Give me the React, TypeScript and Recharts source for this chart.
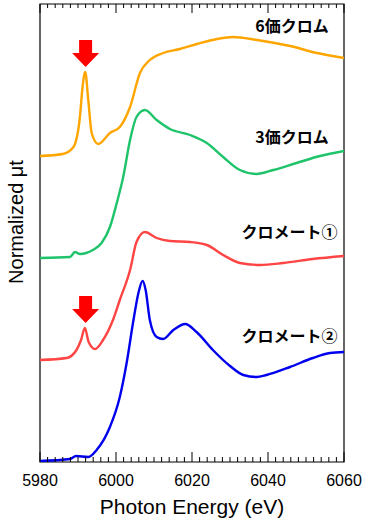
import { LineChart, Line, XAxis, YAxis, ReferenceArea, ReferenceDot } from 'recharts';

// energy (eV), normalized μt with per-spectrum vertical offset
const cr6 = [
  { e: 5980, v: 3.06 }, { e: 5986, v: 3.08 }, { e: 5988.8, v: 3.15 }, { e: 5990.5, v: 3.45 },
  { e: 5991.2, v: 3.75 }, { e: 5991.9, v: 3.9 }, { e: 5992.7, v: 3.62 }, { e: 5993.6, v: 3.29 },
  { e: 5995.3, v: 3.18 }, { e: 5998.4, v: 3.29 }, { e: 6001, v: 3.35 }, { e: 6003.7, v: 3.55 },
  { e: 6006.3, v: 3.89 }, { e: 6008.9, v: 4.02 }, { e: 6012.4, v: 4.09 }, { e: 6016.8, v: 4.13 },
  { e: 6021.3, v: 4.18 }, { e: 6026.6, v: 4.23 }, { e: 6030.8, v: 4.25 }, { e: 6037.1, v: 4.22 },
  { e: 6045.8, v: 4.16 }, { e: 6052.9, v: 4.09 }, { e: 6060, v: 4.04 },
];

const cr3 = [
  { e: 5980, v: 2.04 }, { e: 5987.9, v: 2.05 }, { e: 5989.2, v: 2.1 }, { e: 5990.5, v: 2.08 },
  { e: 5993.9, v: 2.12 }, { e: 5996.2, v: 2.19 }, { e: 5998.4, v: 2.35 }, { e: 6000.2, v: 2.59 },
  { e: 6001.9, v: 2.85 }, { e: 6003.7, v: 3.22 }, { e: 6005.4, v: 3.45 }, { e: 6007.6, v: 3.52 },
  { e: 6010.7, v: 3.42 }, { e: 6014.2, v: 3.33 }, { e: 6019.5, v: 3.27 }, { e: 6023.9, v: 3.19 },
  { e: 6028.2, v: 3.05 }, { e: 6032.6, v: 2.92 }, { e: 6037, v: 2.88 }, { e: 6041.4, v: 2.92 },
  { e: 6047.5, v: 2.99 }, { e: 6053.7, v: 3.06 }, { e: 6060, v: 3.11 },
];

const chromate1 = [
  { e: 5980, v: 1.02 }, { e: 5987, v: 1.04 }, { e: 5989.6, v: 1.12 }, { e: 5990.8, v: 1.22 },
  { e: 5991.8, v: 1.34 }, { e: 5992.8, v: 1.2 }, { e: 5994.5, v: 1.13 }, { e: 5996.6, v: 1.22 },
  { e: 5999.2, v: 1.42 }, { e: 6001, v: 1.62 }, { e: 6003.7, v: 1.92 }, { e: 6005.4, v: 2.2 },
  { e: 6007.6, v: 2.3 }, { e: 6010.7, v: 2.24 }, { e: 6014.2, v: 2.21 }, { e: 6019.5, v: 2.2 },
  { e: 6023.9, v: 2.17 }, { e: 6028.2, v: 2.07 }, { e: 6032.6, v: 1.99 }, { e: 6037.9, v: 1.97 },
  { e: 6044, v: 1.99 }, { e: 6051.8, v: 2.03 }, { e: 6060, v: 2.06 },
];

const chromate2 = [
  { e: 5980, v: 0.01 }, { e: 5987.9, v: 0.03 }, { e: 5989.5, v: 0.06 }, { e: 5992.7, v: 0.05 },
  { e: 5994.9, v: 0.12 }, { e: 5998.4, v: 0.35 }, { e: 6001, v: 0.65 }, { e: 6002.8, v: 0.99 },
  { e: 6004.6, v: 1.42 }, { e: 6005.9, v: 1.69 }, { e: 6007, v: 1.81 }, { e: 6007.8, v: 1.72 },
  { e: 6008.9, v: 1.42 }, { e: 6010.7, v: 1.25 }, { e: 6012.4, v: 1.23 }, { e: 6015.1, v: 1.32 },
  { e: 6018.2, v: 1.38 }, { e: 6021.2, v: 1.3 }, { e: 6025.5, v: 1.12 }, { e: 6030, v: 0.96 },
  { e: 6033.5, v: 0.87 }, { e: 6037, v: 0.85 }, { e: 6039.6, v: 0.87 }, { e: 6045.8, v: 0.95 },
  { e: 6051.8, v: 1.04 }, { e: 6056.3, v: 1.09 }, { e: 6060, v: 1.1 },
];

const majorTicks = [5980, 6000, 6020, 6040, 6060];
const allTicks = [
  5980, 5982, 5984, 5986, 5988, 5990, 5992, 5994, 5996, 5998,
  6000, 6002, 6004, 6006, 6008, 6010, 6012, 6014, 6016, 6018,
  6020, 6022, 6024, 6026, 6028, 6030, 6032, 6034, 6036, 6038,
  6040, 6042, 6044, 6046, 6048, 6050, 6052, 6054, 6056, 6058, 6060,
];

// label positions (energy, value) and texts
const labels = [
  { e: 6056, v: 4.37, text: '6価クロム' },
  { e: 6056, v: 3.26, text: '3価クロム' },
  { e: 6058.3, v: 2.31, text: 'クロメート①' },
  { e: 6058.3, v: 1.27, text: 'クロメート②' },
];
const arrows = [
  { e: 5992, v: 3.95 },
  { e: 5992, v: 1.39 },
];

const jp = '"Noto Sans CJK JP", sans-serif';
const sans = '"Liberation Sans", Arial, sans-serif';

const BottomTick = (p: any) => {
  const { x, y, payload } = p;
  const major = majorTicks.includes(payload.value);
  return (
    <g>
      <line x1={x} x2={x} y1={y} y2={y - (major ? 10 : 5)} stroke="#000" strokeWidth={1} />
      {major && (
        <text x={x} y={y + 18} textAnchor="middle" dominantBaseline="central"
          fontFamily={sans} fontSize={16} fill="#000">{payload.value}</text>
      )}
    </g>
  );
};

const TopTick = (p: any) => {
  const { x, y, payload } = p;
  const major = majorTicks.includes(payload.value);
  return <line x1={x} x2={x} y1={y} y2={y + (major ? 9 : 4)} stroke="#000" strokeWidth={1} />;
};

const Arrow = (p: any) => {
  const { cx, cy } = p;
  const path = `M${cx - 6.5},${cy - 27} L${cx + 6.5},${cy - 27} L${cx + 6.5},${cy - 14} L${cx + 13.5},${cy - 14} L${cx},${cy} L${cx - 13.5},${cy - 14} L${cx - 6.5},${cy - 14} Z`;
  return <path d={path} fill="#ff0000" />;
};

const LabelText = (text: string) => (p: any) => (
  <text x={p.cx} y={p.cy} textAnchor="end" dominantBaseline="central"
    fontFamily={jp} fontWeight={700} fontSize={16} fill="#000">{text}</text>
);

export default function App() {
  return (
    <div style={{ position: 'absolute', left: 0, top: 0, width: 370, height: 528, background: '#fff' }}>
      <LineChart width={370} height={528} margin={{ top: 2, right: 26, bottom: 36, left: 40 }}>
        <XAxis xAxisId="major" dataKey="e" type="number" domain={[5980, 6060]} ticks={allTicks}
          interval={0} height={30} tickSize={0} tickMargin={0} axisLine={false} tickLine={false}
          tick={BottomTick} allowDataOverflow />
        <XAxis xAxisId="top" orientation="top" dataKey="e" type="number" domain={[5980, 6060]}
          ticks={allTicks} interval={0} height={2} tickSize={0} tickMargin={0} axisLine={false}
          tickLine={false} tick={TopTick} allowDataOverflow />
        <YAxis yAxisId="y" type="number" domain={[0, 4.58]} hide allowDataOverflow />
        <ReferenceArea xAxisId="major" yAxisId="y" x1={5980} x2={6060} y1={0} y2={4.58}
          fill="none" stroke="#000" strokeWidth={1.2} ifOverflow="visible" />
        <Line xAxisId="major" yAxisId="y" data={cr6} dataKey="v" type="monotone" stroke="#ffa500"
          strokeWidth={2.4} dot={false} isAnimationActive={false} />
        <Line xAxisId="major" yAxisId="y" data={cr3} dataKey="v" type="monotone" stroke="#1ec36a"
          strokeWidth={2.4} dot={false} isAnimationActive={false} />
        <Line xAxisId="major" yAxisId="y" data={chromate1} dataKey="v" type="monotone" stroke="#ff4444"
          strokeWidth={2.4} dot={false} isAnimationActive={false} />
        <Line xAxisId="major" yAxisId="y" data={chromate2} dataKey="v" type="monotone" stroke="#0000ee"
          strokeWidth={2.4} dot={false} isAnimationActive={false} />
        {arrows.map((a, i) => (
          <ReferenceDot key={'a' + i} xAxisId="major" yAxisId="y" x={a.e} y={a.v} r={0}
            shape={Arrow} ifOverflow="visible" />
        ))}
        {labels.map((l, i) => (
          <ReferenceDot key={'l' + i} xAxisId="major" yAxisId="y" x={l.e} y={l.v} r={0}
            shape={LabelText(l.text)} ifOverflow="visible" />
        ))}
      </LineChart>
      <div style={{ position: 'absolute', left: 0, width: 384, top: 495, textAlign: 'center',
        fontFamily: sans, fontSize: 21, color: '#000' }}>Photon Energy (eV)</div>
      <div style={{ position: 'absolute', left: 16, top: 222, transform: 'translate(-50%, -50%) rotate(-90deg)',
        whiteSpace: 'nowrap', fontFamily: sans, fontSize: 20, color: '#000' }}>Normalized μt</div>
    </div>
  );
}
